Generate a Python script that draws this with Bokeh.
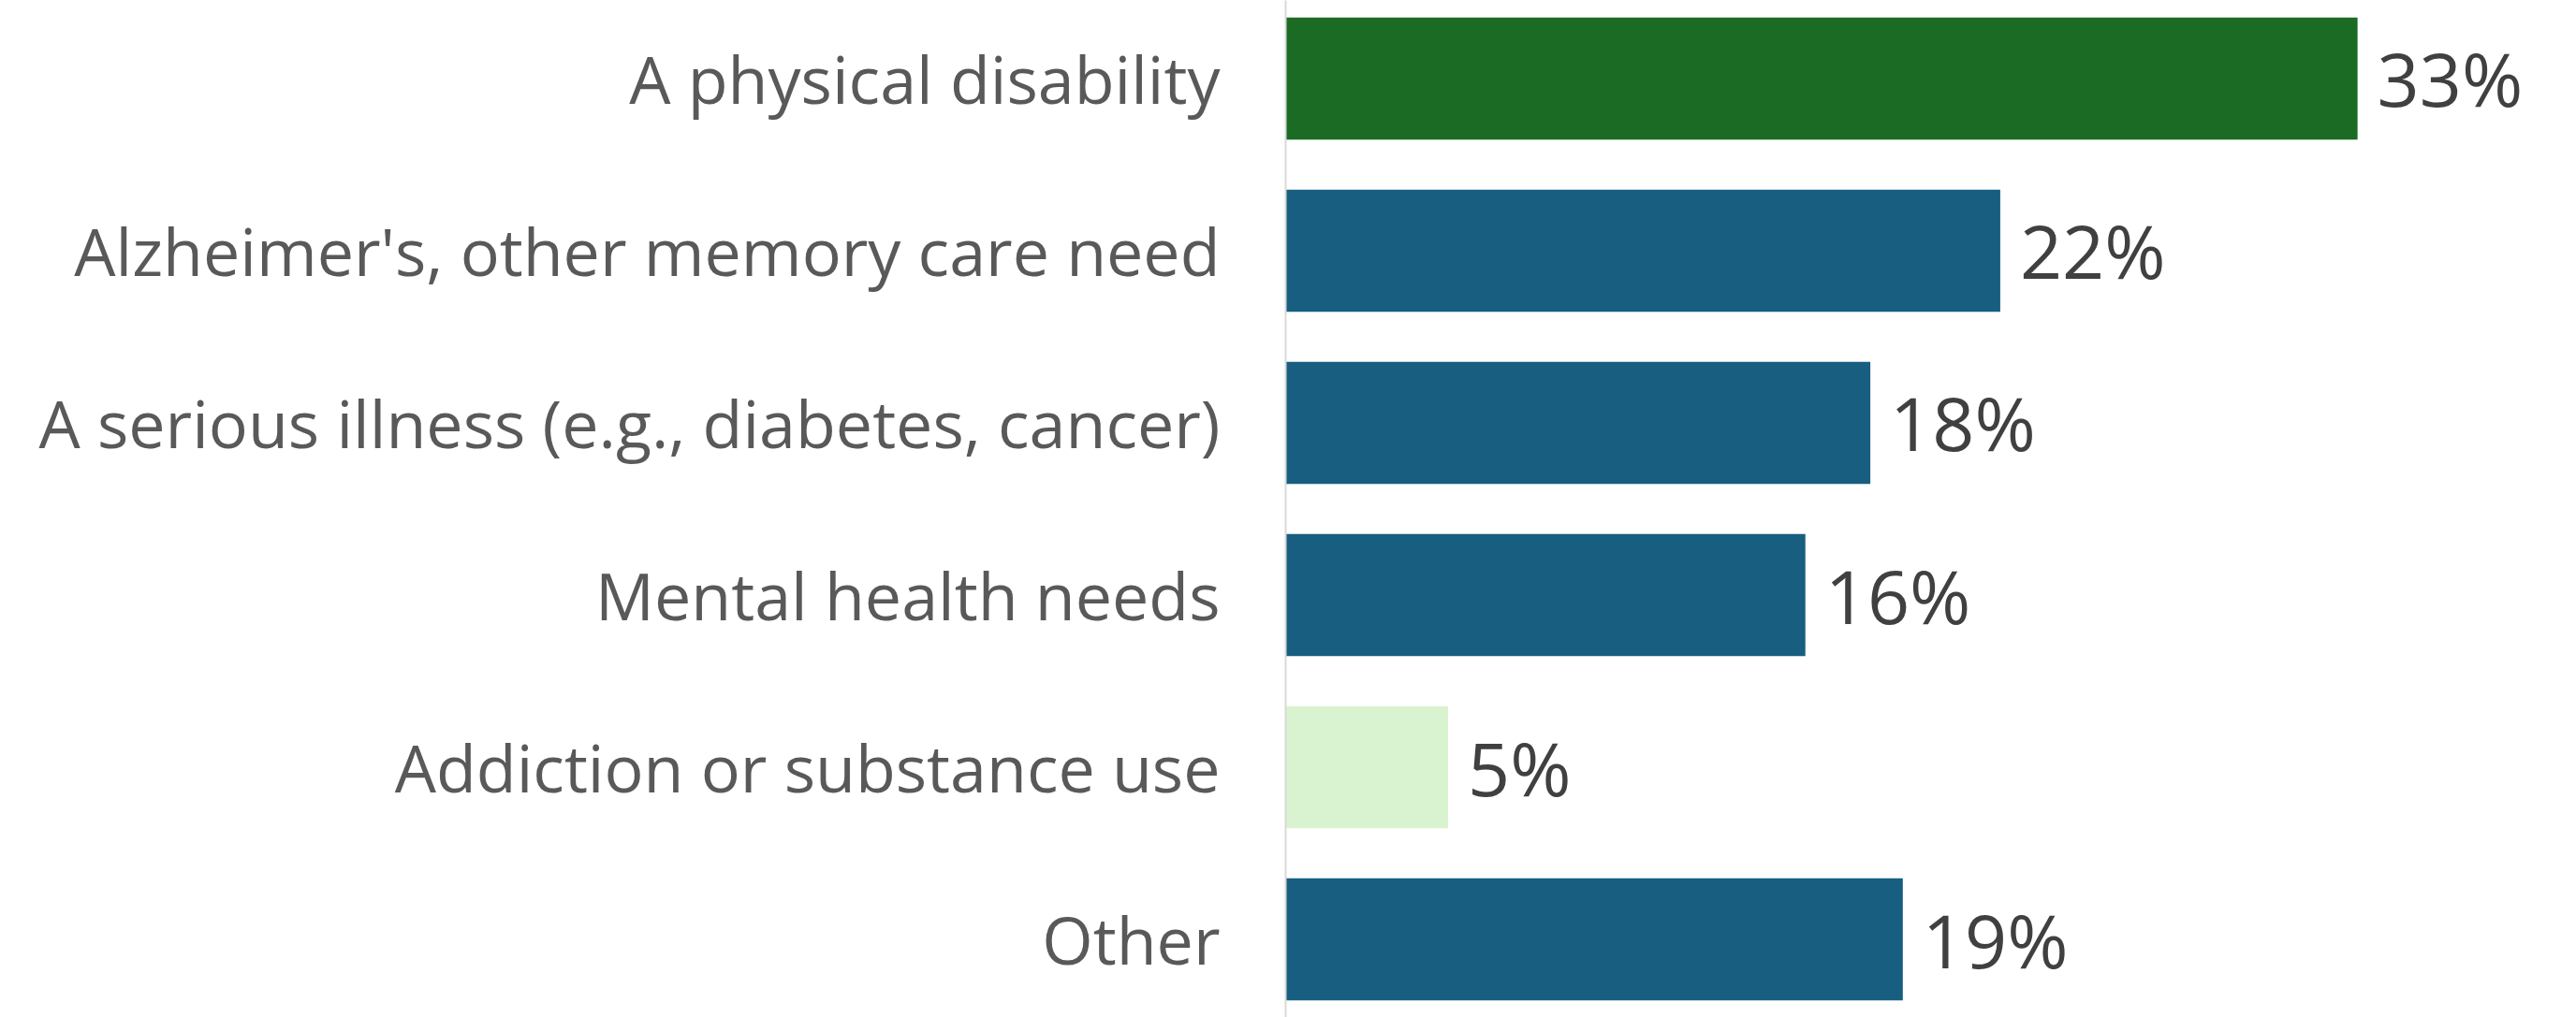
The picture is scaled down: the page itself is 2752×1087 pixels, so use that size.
from bokeh.plotting import figure
from bokeh.models import ColumnDataSource, FactorRange
from bokeh.core.properties import value
from bokeh.embed import file_html
from bokeh.resources import INLINE

categories = [
    "A physical disability",
    "Alzheimer's, other memory care need",
    "A serious illness (e.g., diabetes, cancer)",
    "Mental health needs",
    "Addiction or substance use",
    "Other",
]
values = [33, 22, 18, 16, 5, 19]
colors = ["#1B6B24", "#175E80", "#175E80", "#175E80", "#D9F2D0", "#175E80"]
labels = [f"{v}%" for v in values]

src = ColumnDataSource(dict(cat=categories, val=values, color=colors, label=labels))

y_range = FactorRange(factors=list(reversed(categories)),
                      range_padding=-0.0462, range_padding_units="absolute")

p = figure(width=2752, height=1087, y_range=y_range, x_range=(0, 39.74),
           output_backend="svg", toolbar_location=None,
           min_border_left=1373, min_border_right=0, min_border_top=0, min_border_bottom=0)

p.hbar(y="cat", right="val", left=0, height=0.71, color="color", line_color=None, source=src)

p.text(x="val", y="cat", text="label", source=src, x_offset=21,
       text_font=value("Open Sans"), text_font_size="79px", text_color="#404040",
       text_baseline="middle", text_align="left")

p.xaxis.visible = False
p.xgrid.visible = False
p.ygrid.visible = False
p.outline_line_color = None

ya = p.yaxis[0]
ya.axis_line_color = "#D9D9D9"
ya.axis_line_width = 2
ya.major_tick_line_color = None
ya.minor_tick_line_color = None
ya.major_tick_out = 0
ya.major_tick_in = 0
ya.major_label_standoff = 70
ya.major_label_text_font = "Open Sans"
ya.major_label_text_font_size = "70px"
ya.major_label_text_color = "#595959"

open("out.html", "w").write(file_html(p, INLINE))
